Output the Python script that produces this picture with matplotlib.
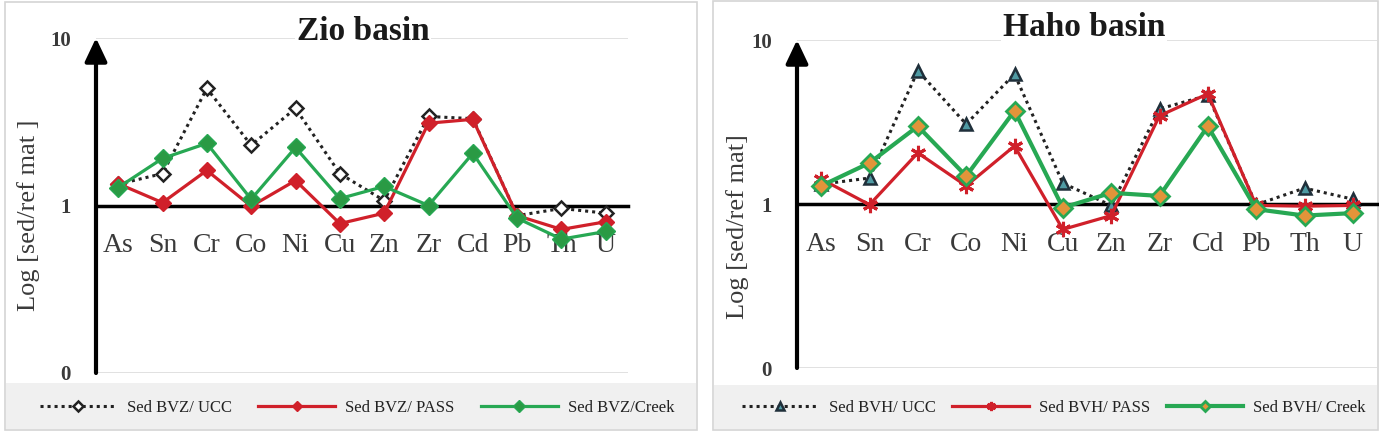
import matplotlib
matplotlib.use("Agg")
import matplotlib.pyplot as plt
from matplotlib.patches import Rectangle
import numpy as np

elements = ['As', 'Sn', 'Cr', 'Co', 'Ni', 'Cu', 'Zn', 'Zr', 'Cd', 'Pb', 'Th', 'U']

zio_ucc = [1.34, 1.55, 5.0, 2.29, 3.8, 1.55, 1.07, 3.4, 3.3, 0.87, 0.96, 0.90]
zio_pass = [1.35, 1.04, 1.62, 0.99, 1.41, 0.78, 0.90, 3.1, 3.27, 0.87, 0.72, 0.80]
zio_creek = [1.28, 1.91, 2.35, 1.09, 2.22, 1.10, 1.30, 1.0, 2.05, 0.84, 0.63, 0.70]

haho_ucc = [1.32, 1.44, 6.5, 3.07, 6.2, 1.34, 0.98, 3.8, 4.6, 0.99, 1.25, 1.07]
haho_pass = [1.42, 0.99, 2.05, 1.29, 2.26, 0.70, 0.85, 3.45, 4.7, 0.98, 0.97, 0.98]
haho_creek = [1.29, 1.78, 2.98, 1.48, 3.7, 0.95, 1.17, 1.12, 2.98, 0.93, 0.85, 0.88]

zio_labels = ['Sed BVZ/ UCC', 'Sed BVZ/ PASS', 'Sed BVZ/Creek']
haho_labels = ['Sed BVH/ UCC', 'Sed BVH/ PASS', 'Sed BVH/ Creek']

plt.rcParams['font.family'] = ['Liberation Serif', 'DejaVu Serif']

W, H = 1379, 432
fig = plt.figure(figsize=(W / 100, H / 100), dpi=100)
fig.patch.set_facecolor('white')

RED = '#d0202a'
GREEN = '#27a853'
TXT = '#3a3a3a'


def px_rect(x0, y0, x1, y1):
    return [x0 / W, 1 - y1 / H, (x1 - x0) / W, (y1 - y0) / H]


def panel(x0, y0, x1, y1, band_top):
    l, b, w, h = px_rect(x0, y0, x1, y1)
    fig.patches.append(Rectangle((l, b), w, h, transform=fig.transFigure,
                                 facecolor='white', edgecolor='#d4d4d4', lw=1.2, zorder=-10))
    l2, b2, w2, h2 = px_rect(x0 + 1, band_top, x1 - 1, y1 - 1)
    fig.patches.append(Rectangle((l2, b2), w2, h2, transform=fig.transFigure,
                                 facecolor='#f0f0f0', edgecolor='none', zorder=-9))


panel(5, 2, 697, 430, 383)
panel(713, 1, 1378, 430, 385)


def setup_axes(rect, title, title_xy, ylabel, ylabel_xy):
    ax = fig.add_axes(px_rect(*rect))
    ax.set_facecolor('none')
    for s in ['top', 'right', 'left']:
        ax.spines[s].set_visible(False)
    ax.set_yscale('log')
    ax.spines['bottom'].set_position(('data', 1))
    ax.spines['bottom'].set_linewidth(2.5)
    ax.spines['bottom'].set_zorder(1.5)
    ax.set_ylim(0.1, 10)
    ax.set_xlim(-0.5, len(elements) - 0.5)
    x = np.arange(len(elements))
    ax.set_xticks(x)
    ax.set_xticklabels(elements)
    ax.tick_params(axis='x', length=0, pad=20, labelsize=20, labelcolor=TXT)
    ax.set_yticks([0.1, 1, 10])
    ax.set_yticklabels(['0', '1', '10'])
    ax.yaxis.set_minor_locator(matplotlib.ticker.NullLocator())
    ax.yaxis.set_minor_formatter(matplotlib.ticker.NullFormatter())
    ax.tick_params(axis='y', length=0, pad=18, labelsize=15, labelcolor=TXT)
    for lab in ax.get_yticklabels():
        lab.set_fontweight('bold')
    for yv in [0.1, 10]:
        ax.axhline(yv, color='#dcdcdc', lw=1.2, zorder=0.5)
    ax.annotate('', xy=(0, 1), xytext=(0, 0), xycoords='axes fraction',
                arrowprops=dict(arrowstyle='-|>,head_width=0.45,head_length=0.95',
                                lw=3, color='black', shrinkA=0, shrinkB=0,
                                mutation_scale=15), zorder=5)
    fig.text(title_xy[0] / W, 1 - title_xy[1] / H, title, fontsize=24, fontweight='bold',
             color='#1a1a1a', ha='center', va='center',
             bbox=dict(facecolor='white', edgecolor='none', pad=1), zorder=6)
    fig.text(ylabel_xy[0] / W, 1 - ylabel_xy[1] / H, ylabel, fontsize=19, color=TXT,
             rotation=90, ha='center', va='center')
    return ax, x


# ---------- Zio basin ----------
ax1, x = setup_axes((96, 38, 628, 373), 'Zio basin', (363, 32),
                    'Log [sed/ref mat ]', (29, 215))
h1 = ax1.plot(x, zio_ucc, color='#222222', lw=2.2, ls=(0, (1, 1.3)),
              marker='D', markersize=7, markerfacecolor='white',
              markeredgecolor='#222222', markeredgewidth=1.8, zorder=3)[0]
h2 = ax1.plot(x, zio_pass, color=RED, lw=2.3, marker='D', markersize=8,
              markerfacecolor=RED, markeredgecolor=RED, zorder=4)[0]
h3 = ax1.plot(x, zio_creek, color=GREEN, lw=2.3, marker='D', markersize=9,
              markerfacecolor='#2a9a44', markeredgecolor=GREEN, zorder=5)[0]
for a in (h1, h2, h3):
    a.set_clip_on(False)
fig.legend([h1, h2, h3], zio_labels, loc='center',
           bbox_to_anchor=(357 / W, 1 - 408 / H), ncol=3, frameon=False,
           prop={'size': 12}, handlelength=4.6, handletextpad=0.6,
           columnspacing=1.6, markerscale=0.7, labelcolor='#222222')

# ---------- Haho basin ----------
ax2, x = setup_axes((797, 40, 1377, 368), 'Haho basin', (1084, 28),
                    'Log [sed/ref mat]', (738, 227))
g1 = ax2.plot(x, haho_ucc, color='#222222', lw=2.2, ls=(0, (1, 1.3)),
              marker='^', markersize=9, markerfacecolor='#4f9aa3',
              markeredgecolor='#1f2f3a', markeredgewidth=1.8, zorder=3)[0]
g2 = ax2.plot(x, haho_pass, color=RED, lw=2.3, marker=(6, 2, 0), markersize=11,
              markeredgecolor=RED, markeredgewidth=2.2, zorder=4)[0]
g3 = ax2.plot(x, haho_creek, color=GREEN, lw=3.0, marker='D', markersize=9,
              markerfacecolor='#e2943a', markeredgecolor=GREEN,
              markeredgewidth=2.0, zorder=5)[0]
for a in (g1, g2, g3):
    a.set_clip_on(False)
fig.legend([g1, g2, g3], haho_labels, loc='center',
           bbox_to_anchor=(1054 / W, 1 - 408 / H), ncol=3, frameon=False,
           prop={'size': 12}, handlelength=4.6, handletextpad=0.6,
           columnspacing=1.0, markerscale=0.6, labelcolor='#222222')

fig.savefig('out.png', dpi=100)
